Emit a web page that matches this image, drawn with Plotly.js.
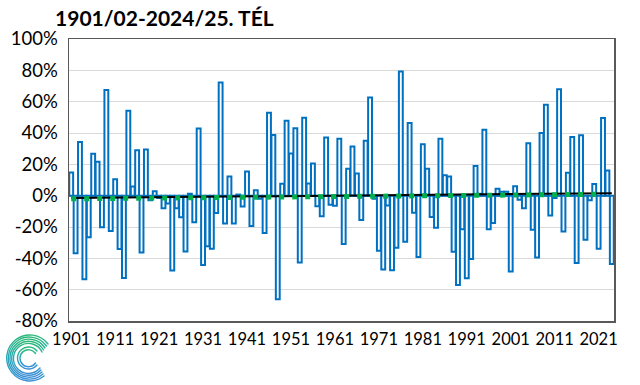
<!DOCTYPE html>
<html>
<head>
<meta charset="utf-8">
<script src="https://cdn.plot.ly/plotly-3.0.1.min.js"></script>
<style>
html,body{margin:0;padding:0;background:#fff;}
#wrap{position:relative;width:640px;height:385px;}
#chart{width:640px;height:385px;}
#logo{position:absolute;left:6px;top:330px;}
</style>
</head>
<body>
<div id="wrap">
<div id="chart"></div>
<svg id="logo" width="50" height="55" viewBox="0 0 50 55">
  <defs>
    <linearGradient id="lg" x1="0" y1="0" x2="0" y2="1">
      <stop offset="0" stop-color="#2DB87A"/>
      <stop offset="0.5" stop-color="#27A9B9"/>
      <stop offset="1" stop-color="#3C8FD6"/>
    </linearGradient>
  </defs>
  <g fill="none" stroke="url(#lg)" stroke-width="1.4" stroke-linecap="round">
    <path d="M 42 14 A 23 23 0 1 0 38 46"/>
    <path d="M 40.5 16 A 21 21 0 1 0 37 44"/>
    <path d="M 39 18 A 19 19 0 1 0 36 42"/>
    <path d="M 37.5 20 A 17 17 0 1 0 35 40"/>
    <path d="M 36 22 A 15 15 0 1 0 34 38"/>
    <path d="M 31 21 A 11 11 0 1 0 31 35"/>
    <path d="M 29.5 23.5 A 8.5 8.5 0 1 0 29.5 33"/>
  </g>
</svg>
</div>
<script>
// Winter precipitation anomaly (%), 1901/02 - 2024/25
var startYear = 1901;
var values = [
  14.8, -36.7, 34.3, -53.4, -26.5, 26.7, 21.6, -20.1, 67.4, -22.5,
  10.5, -34, -52.5, 54.2, 5.8, 29, -36.3, 29.5, -3, 2.8,
  -1.5, -8, -5, -47.7, -8, -13.8, -35.6, 1.3, -17, 42.8,
  -44.2, -32.3, -33.9, -11, 72.2, -17.8, 12.2, -17.8, 0.7, -6.9,
  15.5, -19.4, 3.5, -2, -23.8, 53, 38.7, -66.1, 7.6, 47.8,
  26.9, 43.1, -42.6, 49.7, 7.7, 20.6, -6.7, -13.2, 37.2, -5.8,
  -6.4, 36.3, -30.8, 17.2, 31.4, 14.1, -15.6, 35, 62.6, -2,
  -35.1, -47.1, -6.2, -47.6, -33.2, 79.3, -29.4, 46.4, -10.9, -39.1,
  32.8, 17.2, -13.6, -20.4, 36.3, 13, 12.3, -35.8, -57, -21.5,
  -52.7, -40.4, 19, 1.2, 42, -21.4, -17.5, 4.4, 2.5, 2.5,
  -48.4, 6, -2.6, -8, 33.5, -21.8, -39.4, 40, 58, -12.7,
  -1.5, 68, -22.8, 14.7, 37.4, -43, 38.5, -28.2, -3, 7.4,
  -33.9, 49.6, 16.1, -43.6
];
var years = [];
for (var i = 0; i < values.length; i++) years.push(startYear + i);

var trendYears = [1901, 2024];
var trendValues = [-1.5, 1.6];
var greenYears = [1901, 2022];
var greenValues = [-2.0, 0.9];

var tickYears = [1901, 1911, 1921, 1931, 1941, 1951, 1961, 1971, 1981, 1991, 2001, 2011, 2021];
var tickLabels = tickYears.map(String);
var yTicks = [-80, -60, -40, -20, 0, 20, 40, 60, 80, 100];
var yTickLabels = ['-80%', '-60%', '-40%', '-20%', '0%', '20%', '40%', '60%', '80%', '100%'];
var gridYears = tickYears.slice(1).map(function (y) { return y - 0.5; });

var xRange = [years[0] - 0.5, years[years.length - 1] + 0.5];

var traces = [
  {
    type: 'bar', x: years, y: values,
    marker: {color: '#FFFFFF', line: {color: '#0070C0', width: 2}},
    hoverinfo: 'x+y', showlegend: false
  },
  {
    type: 'scatter', mode: 'lines', x: trendYears, y: trendValues,
    line: {color: '#000000', width: 2}, showlegend: false
  },
  {
    type: 'scatter', mode: 'lines', x: greenYears, y: greenValues,
    line: {color: '#00B050', width: 5, dash: '5px,8px'}, showlegend: false
  }
];

var fontFam = 'Lato, "Open Sans", sans-serif';

var layout = {
  width: 640, height: 385,
  margin: {l: 69, r: 26, t: 39, b: 64},
  paper_bgcolor: '#FFFFFF', plot_bgcolor: '#FFFFFF',
  bargap: 0.12,
  title: {
    text: '<b>1901/02-2024/25. TÉL</b>',
    xref: 'container', yref: 'container',
    x: 0.086, xanchor: 'left', y: 0.952, yanchor: 'middle',
    font: {family: fontFam, size: 21, color: '#000000'}
  },
  xaxis: {
    range: xRange, tickmode: 'array', tickvals: tickYears, ticktext: tickLabels,
    showgrid: false, zeroline: false, ticks: '',
    showline: true, mirror: true, linecolor: '#595959', linewidth: 1.5,
    tickfont: {family: fontFam, size: 16.5, color: '#000000'},
    ticklabelstandoff: 3
  },
  xaxis2: {
    overlaying: 'x', anchor: 'y', range: xRange,
    tickmode: 'array', tickvals: gridYears, showticklabels: false,
    showgrid: true, gridcolor: '#D9D9D9', gridwidth: 1, ticks: '', zeroline: false
  },
  yaxis: {
    range: [-80, 100], tickmode: 'array', tickvals: yTicks, ticktext: yTickLabels,
    showgrid: true, gridcolor: '#D9D9D9', gridwidth: 1,
    zeroline: true, zerolinecolor: '#A6A6A6', zerolinewidth: 2,
    showline: true, mirror: true, linecolor: '#595959', linewidth: 1.5, ticks: '',
    tickfont: {family: fontFam, size: 18.5, color: '#000000'},
    ticklabelstandoff: 6
  },
  font: {family: fontFam}
};

Plotly.newPlot('chart', traces, layout, {displayModeBar: false, staticPlot: true});
</script>
</body>
</html>
